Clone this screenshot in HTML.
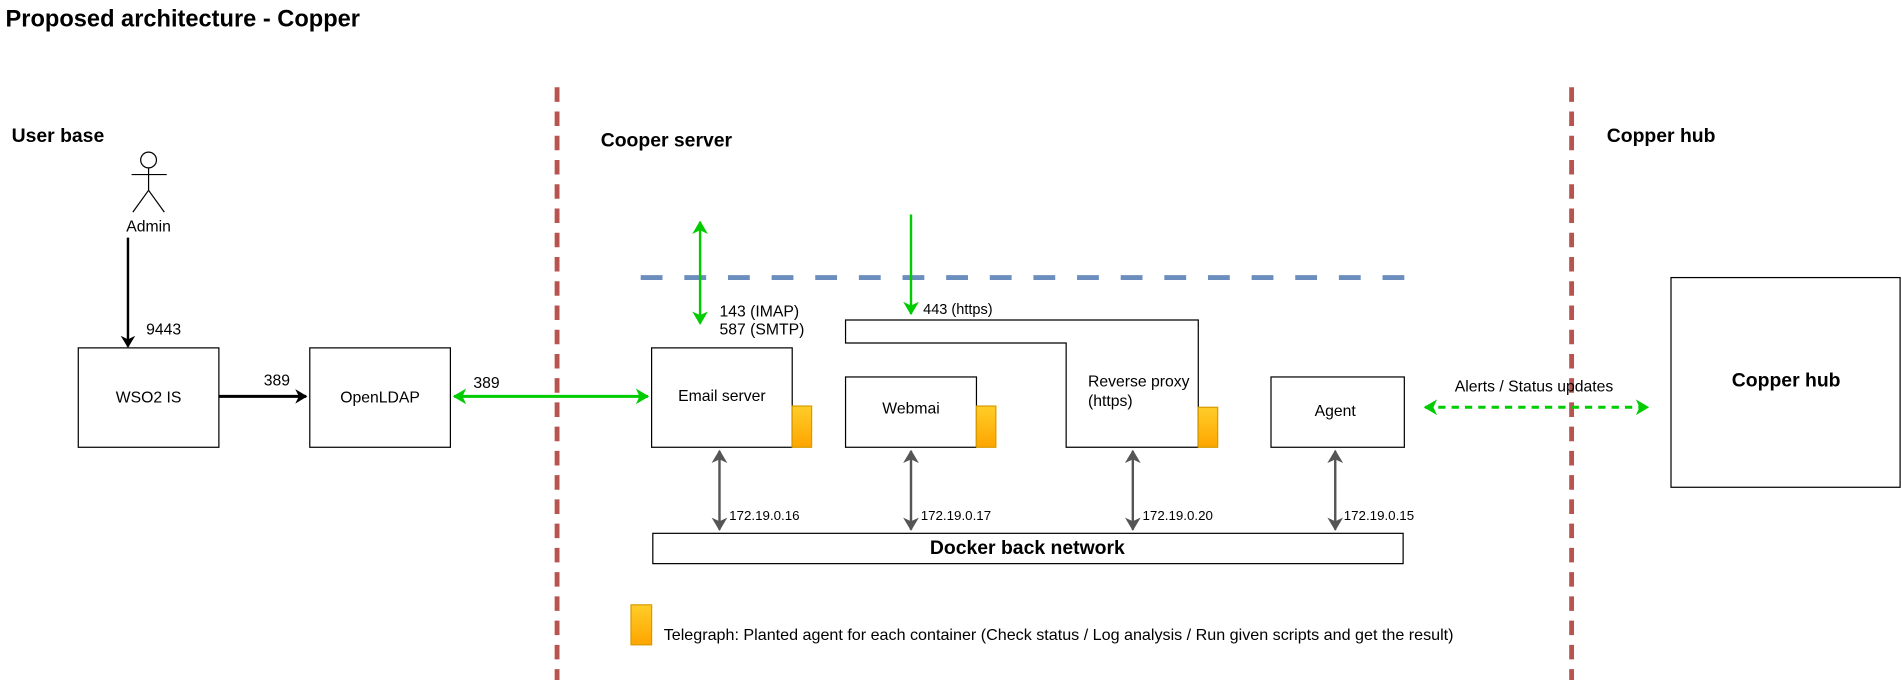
<!DOCTYPE html>
<html><head><meta charset="utf-8"><style>
html,body{margin:0;padding:0;background:#fff;}
svg{display:block;}
text{font-family:"Liberation Sans",sans-serif;fill:#000;}
</style></head><body>
<svg width="1902" height="680" viewBox="0 0 1568 561" xmlns="http://www.w3.org/2000/svg">
<defs>
<linearGradient id="og" x1="0" y1="0" x2="0" y2="1"><stop offset="0" stop-color="#ffcd28"/><stop offset="1" stop-color="#ffa500"/></linearGradient>
<marker id="ab" markerWidth="12" markerHeight="12" refX="9" refY="6" orient="auto-start-reverse" markerUnits="userSpaceOnUse"><path d="M0,0 L10,6 L0,12 L3,6 Z" fill="#000"/></marker>
<marker id="ag" markerWidth="13" markerHeight="13" refX="10" refY="6.5" orient="auto-start-reverse" markerUnits="userSpaceOnUse"><path d="M0,0 L11,6.5 L0,13 L3,6.5 Z" fill="#00cc00"/></marker>
<marker id="ay" markerWidth="13" markerHeight="13" refX="10" refY="6.5" orient="auto-start-reverse" markerUnits="userSpaceOnUse"><path d="M0,0 L11,6.5 L0,13 L3,6.5 Z" fill="#555"/></marker>
</defs>
<text x="4" y="22" font-size="19.5" font-weight="bold">Proposed architecture - Copper</text>
<text x="9" y="117" font-size="16" font-weight="bold">User base</text>
<text x="495" y="121" font-size="16" font-weight="bold">Cooper server</text>
<text x="1325" y="117" font-size="16" font-weight="bold">Copper hub</text>
<line x1="459" y1="72" x2="459" y2="561" stroke="#b85450" stroke-width="4" stroke-dasharray="12,8"/>
<line x1="1296" y1="72" x2="1296" y2="561" stroke="#b85450" stroke-width="4" stroke-dasharray="12,8"/>
<line x1="528" y1="229" x2="1168" y2="229" stroke="#6c8ebf" stroke-width="4" stroke-dasharray="18,18"/>
<g stroke="#000" fill="none" stroke-width="1">
<circle cx="122" cy="132" r="6.5" fill="#fff"/>
<line x1="122" y1="138.5" x2="122" y2="157"/>
<line x1="108" y1="144" x2="137" y2="144"/>
<line x1="122" y1="157" x2="109" y2="175"/>
<line x1="122" y1="157" x2="135" y2="175"/>
</g>
<text x="122" y="191" font-size="13" text-anchor="middle">Admin</text>
<line x1="105" y1="196" x2="105" y2="286" stroke="#000" stroke-width="2" marker-end="url(#ab)"/>
<text x="120" y="276" font-size="13">9443</text>
<rect x="64" y="287" width="116" height="82" fill="#fff" stroke="#000"/>
<text x="122" y="332" font-size="13" text-anchor="middle">WSO2 IS</text>
<line x1="180" y1="327" x2="252" y2="327" stroke="#000" stroke-width="2.5" marker-end="url(#ab)"/>
<text x="217" y="318" font-size="13">389</text>
<rect x="255" y="287" width="116" height="82" fill="#fff" stroke="#000"/>
<text x="313" y="332" font-size="13" text-anchor="middle">OpenLDAP</text>
<line x1="374" y1="327" x2="534" y2="327" stroke="#00cc00" stroke-width="2.5" marker-start="url(#ag)" marker-end="url(#ag)"/>
<text x="390" y="320" font-size="13">389</text>
<rect x="537" y="287" width="116" height="82" fill="#fff" stroke="#000"/>
<text x="595" y="331" font-size="13" text-anchor="middle">Email server</text>
<rect x="653" y="335" width="16" height="34" fill="url(#og)" stroke="#d79b00"/>
<line x1="577" y1="183" x2="577" y2="267" stroke="#00cc00" stroke-width="2" marker-start="url(#ag)" marker-end="url(#ag)"/>
<text x="593" y="261" font-size="13">143 (IMAP)</text>
<text x="593" y="276" font-size="13">587 (SMTP)</text>
<line x1="751" y1="177" x2="751" y2="259" stroke="#00cc00" stroke-width="2" marker-end="url(#ag)"/>
<text x="761" y="259" font-size="12">443 (https)</text>
<path d="M697,264 L988,264 L988,369 L879,369 L879,283 L697,283 Z" fill="#fff" stroke="#000"/>
<text x="897" y="319" font-size="13">Reverse proxy</text>
<text x="897" y="335" font-size="13">(https)</text>
<rect x="988" y="336" width="16" height="33" fill="url(#og)" stroke="#d79b00"/>
<rect x="697" y="311" width="108" height="58" fill="#fff" stroke="#000"/>
<text x="751" y="341" font-size="13" text-anchor="middle">Webmai</text>
<rect x="805" y="335" width="16" height="34" fill="url(#og)" stroke="#d79b00"/>
<rect x="1048" y="311" width="110" height="58" fill="#fff" stroke="#000"/>
<text x="1101" y="343" font-size="13" text-anchor="middle">Agent</text>
<line x1="1175" y1="336" x2="1359" y2="336" stroke="#00cc00" stroke-width="2.5" stroke-dasharray="6,5" marker-start="url(#ag)" marker-end="url(#ag)"/>
<text x="1265" y="323" font-size="13" text-anchor="middle">Alerts / Status updates</text>
<rect x="1378" y="229" width="189" height="173" fill="#fff" stroke="#000"/>
<text x="1473" y="319" font-size="16" font-weight="bold" text-anchor="middle">Copper hub</text>
<rect x="538" y="440" width="619" height="25" fill="#fff" stroke="#000"/>
<text x="847" y="457" font-size="16" font-weight="bold" text-anchor="middle">Docker back network</text>
<g stroke="#555" stroke-width="2">
<line x1="593" y1="372" x2="593" y2="437" marker-start="url(#ay)" marker-end="url(#ay)"/>
<line x1="751" y1="372" x2="751" y2="437" marker-start="url(#ay)" marker-end="url(#ay)"/>
<line x1="934" y1="372" x2="934" y2="437" marker-start="url(#ay)" marker-end="url(#ay)"/>
<line x1="1101" y1="372" x2="1101" y2="437" marker-start="url(#ay)" marker-end="url(#ay)"/>
</g>
<text x="601" y="429" font-size="11">172.19.0.16</text>
<text x="759" y="429" font-size="11">172.19.0.17</text>
<text x="942" y="429" font-size="11">172.19.0.20</text>
<text x="1108" y="429" font-size="11">172.19.0.15</text>
<rect x="520" y="499" width="17" height="33" fill="url(#og)" stroke="#d79b00"/>
<text x="547" y="528" font-size="13.3">Telegraph: Planted agent for each container (Check status / Log analysis /  Run given scripts and get the result)</text>
</svg>
</body></html>
